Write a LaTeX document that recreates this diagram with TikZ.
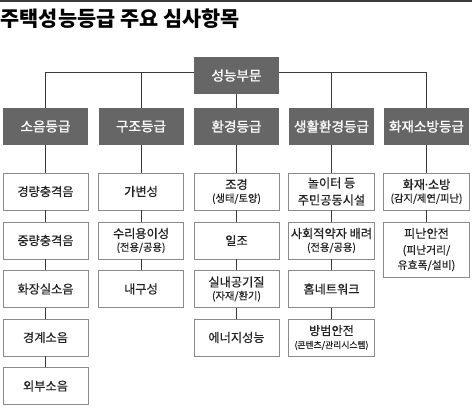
\documentclass[tikz,border=0pt]{standalone}
\usepackage{fontspec}
\newfontfamily\kr[FakeBold=0.5]{Noto Sans CJK KR}
\newfontfamily\krc[FakeBold=1.2]{Noto Sans CJK KR}
\newfontfamily\krt{Noto Sans CJK KR}
\begin{document}
\begin{tikzpicture}[x=1pt,y=-1pt,
  catbox/.style={fill=catgray,draw=none,minimum width=85pt,minimum height=37pt,inner sep=0pt,text=white,font=\krc\fontsize{13.6}{16}\selectfont},
  subbox/.style={draw=boxline,line width=0.9pt,fill=white,minimum width=85pt,minimum height=37pt,inner sep=0pt,align=center,text=txt,font=\kr\fontsize{12.2}{15}\selectfont},
  link/.style={draw=linec,line width=0.9pt}]
\definecolor{catgray}{HTML}{666666}
\definecolor{boxline}{HTML}{8A8A8A}
\definecolor{linec}{HTML}{3A3A3A}
\definecolor{txt}{HTML}{222222}
\useasboundingbox (0,0) rectangle (472,408);
\fill[white] (0,0) rectangle (472,408);
\fill[linec] (0,0) rectangle (472,2);
\node[anchor=west,inner sep=0pt,font=\krt\bfseries\fontsize{20.8}{24}\selectfont,text=black] (title) at (0.5,18.5) {주택성능등급 주요 심사항목};
% bus
\coordinate (b1) at (45.5,72);
\coordinate (b2) at (141,72);
\coordinate (b4) at (331.5,72);
\coordinate (b5) at (426.5,72);
\draw[link] (b1) -- (b5);
\node[catbox] (root) at (236.5,75.5) {성능부문};
\node[catbox] (c1) at (45.5,126.5) {소음등급};
\node[catbox] (c2) at (141,126.5) {구조등급};
\node[catbox] (c3) at (236.5,126.5) {환경등급};
\node[catbox] (c4) at (331.5,126.5) {생활환경등급};
\node[catbox] (c5) at (426.5,126.5) {화재소방등급};
\draw[link] (b1) -- (c1.north);
\draw[link] (b2) -- (c2.north);
\draw[link] (root.south) -- (c3.north);
\draw[link] (b4) -- (c4.north);
\draw[link] (b5) -- (c5.north);
% column 1
\node[subbox] (s11) at (45.5,191.5) {경량충격음};
\node[subbox] (s12) at (45.5,240.5) {중량충격음};
\node[subbox] (s13) at (45.5,289) {화장실소음};
\node[subbox] (s14) at (45.5,337.5) {경계소음};
\node[subbox] (s15) at (45.5,386) {외부소음};
% column 2
\node[subbox] (s21) at (141,191.5) {가변성};
\node[subbox] (s22) at (141,240.5) {수리용이성\\[-2pt]{\fontsize{10.3}{13}\selectfont (전용/공용)}};
\node[subbox] (s23) at (141,289) {내구성};
% column 3
\node[subbox] (s31) at (236.5,191.5) {조경\\[-2pt]{\fontsize{10.3}{13}\selectfont (생태/토양)}};
\node[subbox] (s32) at (236.5,240.5) {일조};
\node[subbox] (s33) at (236.5,289) {실내공기질\\[-2pt]{\fontsize{10.3}{13}\selectfont (자재/환기)}};
\node[subbox] (s34) at (236.5,337.5) {에너지성능};
% column 4
\node[subbox,minimum width=86pt] (s41) at (331.5,191.5) {놀이터 등\\[2pt]주민공동시설};
\node[subbox,minimum width=86pt] (s42) at (331.5,240.5) {사회적약자 배려\\[-2pt]{\fontsize{10.3}{13}\selectfont (전용/공용)}};
\node[subbox,minimum width=86pt] (s43) at (331.5,289) {홈네트워크};
\node[subbox,minimum width=86pt] (s44) at (331.5,337.5) {방범안전\\[-2pt]{\fontsize{8.8}{13}\selectfont (콘텐츠/관리시스템)}};
% column 5
\node[subbox,minimum width=86pt] (s51) at (426.5,191.5) {화재\kern-2pt·\kern-2pt소방\\[-2pt]{\fontsize{10.3}{13}\selectfont (감지/제연/피난)}};
\node[subbox,minimum width=86pt,minimum height=55pt] (s52) at (426.5,249.5) {피난안전\\[1pt]{\fontsize{10.8}{16}\selectfont (피난거리/}\\[0pt]{\fontsize{10.8}{16}\selectfont 유효폭/설비)}};
% connectors
\draw[link] (c1) -- (s11); \draw[link] (s11) -- (s12); \draw[link] (s12) -- (s13); \draw[link] (s13) -- (s14); \draw[link] (s14) -- (s15);
\draw[link] (c2) -- (s21); \draw[link] (s21) -- (s22); \draw[link] (s22) -- (s23);
\draw[link] (c3) -- (s31); \draw[link] (s31) -- (s32); \draw[link] (s32) -- (s33); \draw[link] (s33) -- (s34);
\draw[link] (c4) -- (s41); \draw[link] (s41) -- (s42); \draw[link] (s42) -- (s43); \draw[link] (s43) -- (s44);
\draw[link] (c5) -- (s51); \draw[link] (s51) -- (s52);
\end{tikzpicture}
\end{document}
